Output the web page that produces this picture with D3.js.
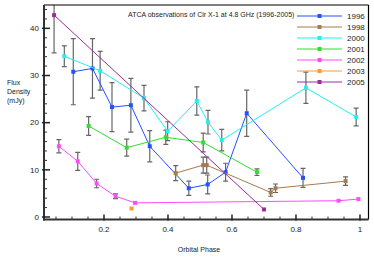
<!DOCTYPE html>
<html>
<head>
<meta charset="utf-8">
<script src="https://cdn.jsdelivr.net/npm/d3@7"></script>
<style>
    body { margin: 0; background: #fff; }
    text { font-family: "Liberation Sans", Arial, sans-serif; fill: #222; }
</style>
</head>
<body>
<script>
//auto function
(function(){

    // data
    var years = ["1996", "1998", "2000", "2001", "2002", "2003", "2005"];
    var colors = ["#2450ff", "#a87a4c", "#22f0f0", "#33dd33", "#ff4cff", "#ff9a33", "#9c2c9c"];

    var phase1996 = [0.104, 0.164, 0.225, 0.284, 0.343, 0.465, 0.524, 0.580, 0.646, 0.822];
    var flux1996  = [30.8, 31.5, 23.3, 23.7, 15.0, 6.1, 6.9, 9.5, 22.0, 8.3];
    var err1996   = [7.0, 6.3, 5.2, 5.7, 3.3, 1.5, 2.0, 1.9, 4.9, 2.0];

    var phase1998 = [0.424, 0.510, 0.521, 0.721, 0.736, 0.955];
    var flux1998  = [9.3, 11.0, 11.0, 5.2, 6.1, 7.6];
    var err1998   = [1.6, 1.7, 1.7, 0.8, 0.9, 0.9];

    var phase2000 = [0.076, 0.188, 0.325, 0.399, 0.490, 0.525, 0.568, 0.831, 0.988];
    var flux2000  = [34.1, 31.0, 25.2, 18.2, 24.6, 20.1, 16.3, 27.4, 21.2];
    var err2000   = [2.2, 4.1, 2.7, 2.0, 3.0, 2.5, 2.3, 3.3, 1.9];

    var phase2001 = [0.152, 0.271, 0.393, 0.510, 0.678];
    var flux2001  = [19.3, 14.7, 16.9, 15.8, 9.5];
    var err2001   = [2.0, 1.8, 1.5, 2.0, 0.7];

    var phase2002 = [0.059, 0.118, 0.177, 0.236, 0.297, 0.933, 0.995];
    var flux2002  = [15.0, 11.8, 7.1, 4.4, 3.0, 3.45, 3.8];
    var err2002   = [1.4, 1.9, 0.9, 0.5, 0, 0, 0];

    var phase2003 = [0.286];
    var flux2003  = [1.8];
    var err2003   = [0];

    var phase2005 = [0.044, 0.700];
    var flux2005  = [42.8, 1.6];
    var err2005   = [8.0, 0];

    var xTicks = [0.2, 0.4, 0.6, 0.8, 1];
    var yTicks = [0, 10, 20, 30, 40];

    var chartTitle = "ATCA observations of Cir X-1 at 4.8 GHz (1996-2005)";

    window.onload = drawChart();

    //zip the arrays of one year into point objects
    function makeSeries(phase, flux, err){
        var pts = [];
        for (var i=0; i<phase.length; i++){
            pts.push({p: phase[i], v: flux[i], e: err[i]});
        }
        return pts;
    };

    function drawChart(){

        var width = 374, height = 264;
        var left = 44, right = 368.5, top = 5, bottom = 219.5;
        var ms = 4; //marker size

        var svg = d3.select("body")
            .append("svg")
            .attr("width", width)
            .attr("height", height);

        var x = d3.scaleLinear().domain([0.0125, 1.0266]).range([left, right]);
        var y = d3.scaleLinear().domain([-0.53, 44.95]).range([bottom, top]);

        var series = [
            makeSeries(phase1996, flux1996, err1996),
            makeSeries(phase1998, flux1998, err1998),
            makeSeries(phase2000, flux2000, err2000),
            makeSeries(phase2001, flux2001, err2001),
            makeSeries(phase2002, flux2002, err2002),
            makeSeries(phase2003, flux2003, err2003),
            makeSeries(phase2005, flux2005, err2005)
        ];

        //clip everything to the plot frame
        svg.append("clipPath").attr("id", "plotClip")
            .append("rect")
            .attr("x", left).attr("y", top)
            .attr("width", right - left).attr("height", bottom - top);

        var plot = svg.append("g").attr("clip-path", "url(#plotClip)");

        var line = d3.line()
            .x(function(d){ return x(d.p); })
            .y(function(d){ return y(d.v); });

        //error bars first so lines sit on top
        series.forEach(function(s){
            var bars = plot.selectAll(null)
                .data(s.filter(function(d){ return d.e > 0; }))
                .enter()
                .append("g")
                .attr("stroke", "#666")
                .attr("stroke-width", 1.2);
            bars.append("line")
                .attr("x1", function(d){ return x(d.p); })
                .attr("x2", function(d){ return x(d.p); })
                .attr("y1", function(d){ return y(d.v - d.e); })
                .attr("y2", function(d){ return y(d.v + d.e); });
            bars.append("line")
                .attr("x1", function(d){ return x(d.p) - 2.5; })
                .attr("x2", function(d){ return x(d.p) + 2.5; })
                .attr("y1", function(d){ return y(d.v - d.e); })
                .attr("y2", function(d){ return y(d.v - d.e); });
            bars.append("line")
                .attr("x1", function(d){ return x(d.p) - 2.5; })
                .attr("x2", function(d){ return x(d.p) + 2.5; })
                .attr("y1", function(d){ return y(d.v + d.e); })
                .attr("y2", function(d){ return y(d.v + d.e); });
        });

        //lines and markers per year
        series.forEach(function(s, i){
            plot.append("path")
                .datum(s)
                .attr("fill", "none")
                .attr("stroke", colors[i])
                .attr("stroke-width", 1)
                .attr("d", line);
            plot.selectAll(null)
                .data(s)
                .enter()
                .append("rect")
                .attr("x", function(d){ return x(d.p) - ms / 2; })
                .attr("y", function(d){ return y(d.v) - ms / 2; })
                .attr("width", ms)
                .attr("height", ms)
                .attr("fill", colors[i]);
        });

        //frame
        svg.append("line").attr("x1", left).attr("x2", right).attr("y1", top).attr("y2", top)
            .attr("stroke", "#000").attr("stroke-width", 1.2);
        svg.append("line").attr("x1", right).attr("x2", right).attr("y1", top).attr("y2", bottom)
            .attr("stroke", "#000").attr("stroke-width", 1.2);
        svg.append("line").attr("x1", left).attr("x2", left).attr("y1", top).attr("y2", bottom + 1)
            .attr("stroke", "#333").attr("stroke-width", 2);
        svg.append("line").attr("x1", left - 1).attr("x2", right).attr("y1", bottom).attr("y2", bottom)
            .attr("stroke", "#333").attr("stroke-width", 2);

        //minor ticks
        var yMinor = d3.range(0, 45, 2).filter(function(v){ return v % 10 != 0; });
        var xMinor = d3.range(0.05, 1.01, 0.05).filter(function(v){ return Math.abs(v * 5 - Math.round(v * 5)) > 0.01; });

        svg.selectAll(".yminor").data(yMinor).enter().append("line")
            .attr("x1", left).attr("x2", left + 3)
            .attr("y1", function(d){ return y(d); }).attr("y2", function(d){ return y(d); })
            .attr("stroke", "#333").attr("stroke-width", 1);
        svg.selectAll(".xminor").data(xMinor).enter().append("line")
            .attr("y1", bottom).attr("y2", bottom - 3)
            .attr("x1", function(d){ return x(d); }).attr("x2", function(d){ return x(d); })
            .attr("stroke", "#333").attr("stroke-width", 1);

        //major ticks and labels
        svg.selectAll(".ymajor").data(yTicks).enter().append("line")
            .attr("x1", left - 2).attr("x2", left + 6)
            .attr("y1", function(d){ return y(d); }).attr("y2", function(d){ return y(d); })
            .attr("stroke", "#222").attr("stroke-width", 1.5);
        svg.selectAll(".ylab").data(yTicks).enter().append("text")
            .attr("x", left - 5)
            .attr("y", function(d){ return y(d); })
            .attr("dy", "0.35em")
            .attr("text-anchor", "end")
            .attr("font-size", 8)
            .text(function(d){ return d; });

        svg.selectAll(".xmajor").data(xTicks).enter().append("line")
            .attr("y1", bottom + 1).attr("y2", bottom - 5)
            .attr("x1", function(d){ return x(d); }).attr("x2", function(d){ return x(d); })
            .attr("stroke", "#222").attr("stroke-width", 1.5);
        svg.selectAll(".xlab").data(xTicks).enter().append("text")
            .attr("x", function(d){ return x(d); })
            .attr("y", 231.5)
            .attr("text-anchor", "middle")
            .attr("font-size", 8)
            .text(function(d){ return d; });

        //axis titles
        svg.append("text")
            .attr("x", 199).attr("y", 251.5)
            .attr("text-anchor", "middle")
            .attr("font-size", 7)
            .text("Orbital Phase");

        var ylab = ["Flux", "Density", "(mJy)"];
        svg.selectAll(".ytitle").data(ylab).enter().append("text")
            .attr("x", 7)
            .attr("y", function(d, i){ return 85 + i * 9; })
            .attr("font-size", 7)
            .text(function(d){ return d; });

        //chart title
        svg.append("text")
            .attr("x", 128).attr("y", 17)
            .attr("font-size", 7)
            .text(chartTitle);

        //legend
        var legend = svg.selectAll(".legend").data(years).enter().append("g")
            .attr("transform", function(d, i){ return "translate(0," + (16 + i * 11) + ")"; });
        legend.append("line")
            .attr("x1", 297).attr("x2", 342).attr("y1", 0).attr("y2", 0)
            .attr("stroke", function(d, i){ return colors[i]; })
            .attr("stroke-width", 1);
        legend.append("rect")
            .attr("x", 319.5 - ms / 2).attr("y", -ms / 2).attr("width", ms).attr("height", ms)
            .attr("fill", function(d, i){ return colors[i]; });
        legend.append("text")
            .attr("x", 347).attr("y", 0).attr("dy", "0.35em")
            .attr("font-size", 8)
            .text(function(d){ return d; });
    };
})();
</script>
</body>
</html>
